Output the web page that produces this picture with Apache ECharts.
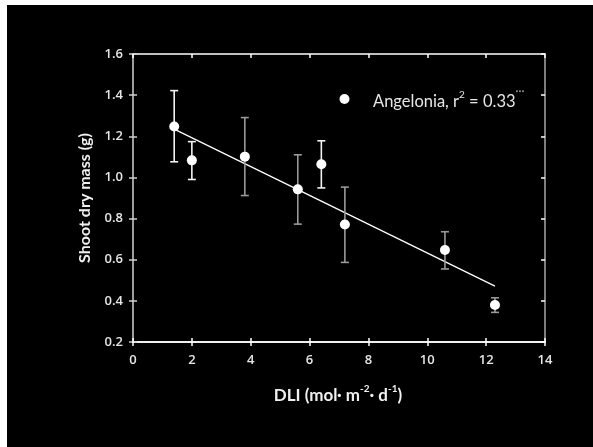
<!DOCTYPE html>
<html>
<head>
<meta charset="utf-8">
<script src="https://cdn.jsdelivr.net/npm/echarts@6/dist/echarts.min.js"></script>
<style>
  html, body { margin: 0; padding: 0; background: #fff; }
  #chart { position: absolute; left: 7px; top: 5px; width: 586px; height: 442px; background: #000; }
</style>
</head>
<body>
<div id="chart"></div>
<script>
// DLI (mol m-2 d-1) and shoot dry mass (g)
var dli = [1.4, 2.0, 3.8, 5.6, 6.4, 7.2, 10.6, 12.3]
var mass = [1.248, 1.083, 1.101, 0.942, 1.064, 0.771, 0.647, 0.380]
var upper = [1.422, 1.174, 1.291, 1.110, 1.178, 0.953, 0.736, 0.415]
var lower = [1.076, 0.990, 0.912, 0.773, 0.949, 0.587, 0.555, 0.344]
// regression line end points
var fitX = [1.4, 12.3]
var fitY = [1.235, 0.472]

// which error bars look white in the original, the rest are grey
var whiteBars = [0, 1, 4]

var chart = echarts.init(document.getElementById('chart'))

var points = dli.map(function (x, i) { return [x, mass[i]] })
var bars = dli.map(function (x, i) { return [x, lower[i], upper[i], i] })
var fit = fitX.map(function (x, i) { return [x, fitY[i]] })

var tickFont = { color: '#e6e6e6', fontSize: 13, fontFamily: 'Open Sans', fontWeight: 600 }

function xAx (pos, show, tickInside, color) {
  return {
    type: 'value', min: 0, max: 14, interval: 2, position: pos,
    axisLine: { show: true, onZero: false, lineStyle: { color: color, width: 1.5 } },
    axisTick: { show: true, inside: tickInside, length: 4, lineStyle: { color: color, width: 1.5 } },
    axisLabel: show ? Object.assign({ margin: 12, formatter: function (v) { return v } }, tickFont) : { show: false },
    splitLine: { show: false }
  }
}
function yAx (pos, show, tickInside, color, tickColor) {
  return {
    type: 'value', min: 0.2, max: 1.6, interval: 0.2, position: pos,
    axisLine: { show: true, onZero: false, lineStyle: { color: color, width: 1.5 } },
    axisTick: { show: true, inside: tickInside, length: 4, lineStyle: { color: tickColor, width: 1.5 } },
    axisLabel: show ? Object.assign({ margin: 10, formatter: function (v) { return v.toFixed(1) } }, tickFont) : { show: false },
    splitLine: { show: false }
  }
}

var option = {
  backgroundColor: '#000',
  animation: false,
  grid: { left: 126, right: 48, top: 49, bottom: 105 },
  xAxis: [
    xAx('bottom', true, false, '#ffffff'),
    xAx('bottom', false, true, '#ffffff'),
    xAx('top', false, true, '#ffffff')
  ],
  yAxis: [
    yAx('left', true, false, '#a8a8a8', '#d0d0d0'),
    yAx('left', false, true, '#a8a8a8', '#d0d0d0'),
    yAx('right', false, true, '#a8a8a8', '#ffffff')
  ],
  series: [
    {
      type: 'line',
      data: fit,
      symbol: 'none',
      lineStyle: { color: '#ffffff', width: 1.3 },
      z: 2
    },
    {
      type: 'custom',
      data: bars,
      renderItem: function (params, api) {
        var x = api.value(0)
        var lo = api.coord([x, api.value(1)])
        var hi = api.coord([x, api.value(2)])
        var col = whiteBars.indexOf(api.value(3)) >= 0 ? '#f2f2f2' : '#9a9a9a'
        var half = 4
        var st = { stroke: col, lineWidth: 1.6 }
        return {
          type: 'group',
          children: [
            { type: 'line', shape: { x1: hi[0], y1: hi[1], x2: lo[0], y2: lo[1] }, style: st },
            { type: 'line', shape: { x1: hi[0] - half, y1: hi[1], x2: hi[0] + half, y2: hi[1] }, style: st },
            { type: 'line', shape: { x1: lo[0] - half, y1: lo[1], x2: lo[0] + half, y2: lo[1] }, style: st }
          ]
        }
      },
      z: 3
    },
    {
      type: 'scatter',
      data: points,
      symbol: 'circle',
      symbolSize: 10,
      itemStyle: { color: '#ffffff', opacity: 1 },
      z: 4
    }
  ],
  graphic: [
    {
      type: 'text', x: 78, y: 193, rotation: Math.PI / 2,
      style: {
        text: 'Shoot dry mass (g)', fill: '#f0f0f0',
        font: 'bold 16px Lato, sans-serif',
        align: 'center', verticalAlign: 'middle'
      }
    },
    {
      type: 'text', x: 331, y: 391,
      style: {
        text: 'DLI (mol· m{sup|-2}· d{sup|-1})', fill: '#f0f0f0',
        font: 'bold 17px Lato, sans-serif',
        align: 'center', verticalAlign: 'middle',
        rich: { sup: { fontSize: 10, fontWeight: 'bold', fontFamily: 'Lato', fill: '#f0f0f0', padding: [0, 0, 14, 0] } }
      }
    },
    {
      type: 'circle', shape: { cx: 337.5, cy: 94, r: 5 }, style: { fill: '#ffffff' }
    },
    {
      type: 'text', x: 366, y: 97,
      style: {
        text: 'Angelonia, r{sup|2} = 0.33{star|***}', fill: '#e6e6e6',
        font: '16.5px Lato, sans-serif',
        verticalAlign: 'middle',
        rich: {
          sup: { fontSize: 10, fontFamily: 'Lato', fill: '#e6e6e6', padding: [0, 0, 14, 0] },
          star: { fontSize: 7, fontFamily: 'Lato', fill: '#bbbbbb', padding: [0, 0, 17, 0] }
        }
      }
    }
  ]
}

chart.setOption(option)
</script>
</body>
</html>
